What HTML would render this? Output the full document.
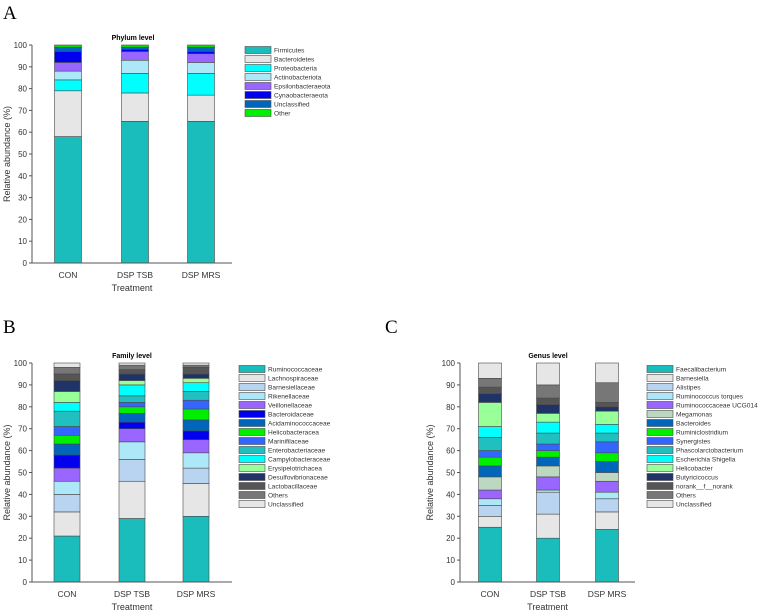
<!DOCTYPE html>
<html><head><meta charset="utf-8">
<style>
html,body{margin:0;padding:0;background:#fff;}
svg{display:block;font-family:"Liberation Sans",Arial,sans-serif;}
</style></head>
<body>
<svg id="chart" width="762" height="612" viewBox="0 0 762 612" xmlns="http://www.w3.org/2000/svg">
<text x="3" y="19" font-family="Liberation Serif,serif" font-size="19">A</text>
<text x="3" y="333" font-family="Liberation Serif,serif" font-size="19">B</text>
<text x="385" y="333" font-family="Liberation Serif,serif" font-size="19">C</text>
</svg>
<script>
const categories = ["CON", "DSP TSB", "DSP MRS"];
const yTicks = [0,10,20,30,40,50,60,70,80,90,100];

const phylumNames = ["Firmicutes","Bacteroidetes","Proteobacteria","Actinobacteriota","Epsilonbacteraeota","Cynaobacteraeota","Unclassified","Other"];
const phylumCON = [58,21,5,4,4,5,2,1];
const phylumTSB = [65,13,9,6,4,1,1,1];
const phylumMRS = [65,12,10,5,4,1,2,1];
const phylumColors = ["#1abcbc","#e6e6e6","#00ffff","#ade8f8","#9966ff","#0000ee","#0066bb","#00ee00"];

const familyNames = ["Ruminococcaceae","Lachnospiraceae","Barnesiellaceae","Rikenellaceae","Veillonellaceae","Bacteroidaceae","Acidaminococcaceae","Helicobacteracea","Marinifilaceae","Enterobacteriaceae","Campylobacteraceae","Erysipelotrichacea","Desulfovibrionaceae","Lactobacillaceae","Others","Unclassified"];
const familyCON = [21,11,8,6,6,6,5,4,4,7,4,5,5,3,3,2];
const familyTSB = [29,17,10,8,6,3,4,3,2,3,5,2,3,2,2,1];
const familyMRS = [30,15,7,7,6,4,5,5,4,4,4,2,2,3,1,1];
const familyColors = ["#1abcbc","#e6e6e6","#b8d4f0","#ade8f8","#9966ff","#0000ee","#0066bb","#00ee00","#3366ff","#20c0c0","#00ffff","#99ff99","#1f3366","#555555","#777777","#e6e6e6"];

const genusNames = ["Faecalibacterium","Barnesiella","Alistipes","Ruminococcus torques","Ruminococcaceae UCG014","Megamonas","Bacteroides","Ruminiclostridium","Synergistes","Phascolarctobacterium","Escherichia Shigella","Helicobacter","Butyricicoccus","norank__f__norank","Others","Unclassified"];
const genusCON = [25,5,5,3,4,6,5,4,3,6,5,11,4,3,4,7];
const genusTSB = [20,11,10,1,6,5,4,3,3,5,5,4,4,3,6,10];
const genusMRS = [24,8,6,3,5,4,5,4,5,4,4,6,2,2,9,9];
const genusColors = ["#1abcbc","#e6e6e6","#b8d4f0","#ade8f8","#9966ff","#bcd8c0","#0066bb","#00ee00","#3366ff","#20c0c0","#00ffff","#99ff99","#1f3366","#555555","#777777","#e6e6e6"];

const svg = document.getElementById('chart');
const NS = "http://www.w3.org/2000/svg";
function mk(tag, attrs, parent){
  const e = document.createElementNS(NS, tag);
  for (const k in attrs) e.setAttribute(k, attrs[k]);
  (parent||svg).appendChild(e);
  return e;
}

function panel(p){
  const g = mk('g', {});
  
  
  const yScale = v => p.y0 - (p.y0 - p.y100) * v / 100;
  // bars
  const series = p.series;
  categories.forEach((c, ci) => {
    const vals = series[ci];
    let cum = 0;
    const cx = p.centers[ci];
    vals.forEach((v, si) => {
      const yTop = yScale(cum + v), yBot = yScale(cum);
      const r = mk('rect', {x: cx - p.bw/2, y: yTop, width: p.bw, height: Math.max(0, yBot - yTop), fill: p.colors[si], stroke: '#4a4a4a', 'stroke-width': 0.6}, g);
      
      
      cum += v;
    });
    const t = mk('text', {x: cx, y: p.y0 + 15, 'font-size': 8.5, 'text-anchor': 'middle', fill: '#333'}, g);
    t.textContent = c;
    
    
  });
  // axes
  const ya = mk('line', {x1: p.ax, y1: p.y100, x2: p.ax, y2: p.y0, stroke: '#555', 'stroke-width': 1}, g);
  
  
  const xa = mk('line', {x1: p.ax, y1: p.y0, x2: p.axEnd, y2: p.y0, stroke: '#555', 'stroke-width': 1}, g);
  
  
  yTicks.forEach(v => {
    const y = yScale(v);
    mk('line', {x1: p.ax - 3, y1: y, x2: p.ax, y2: y, stroke: '#555', 'stroke-width': 1}, g);
    const t = mk('text', {x: p.ax - 5, y: y + 3, 'font-size': 8, 'text-anchor': 'end', fill: '#333'}, g);
    t.textContent = v;
    
    
  });
  const ttl = mk('text', {x: p.titleX, y: p.y100 - 5, 'font-size': 7, 'font-weight': 'bold', 'text-anchor': 'middle'}, g);
  ttl.textContent = p.title;
  
  
  const xt = mk('text', {x: (p.ax + p.axEnd)/2, y: p.y0 + 28, 'font-size': 9, 'text-anchor': 'middle', fill: '#333'}, g);
  xt.textContent = 'Treatment';
  
  
  const yc = (p.y0 + p.y100)/2;
  const yt = mk('text', {x: p.ylabX, y: yc, 'font-size': 9, 'text-anchor': 'middle', fill: '#333', transform: 'rotate(-90 ' + p.ylabX + ' ' + yc + ')'}, g);
  yt.textContent = 'Relative abundance (%)';
  
  
  // legend
  p.names.forEach((n, i) => {
    const cy = p.legY + i * 9;
    const lg = mk('g', {}, g);
    
    
    mk('rect', {x: p.legX, y: cy - 3.5, width: 26, height: 7, fill: p.colors[i], stroke: '#4a4a4a', 'stroke-width': 0.6}, lg);
    const t = mk('text', {x: p.legX + 29, y: cy + 2.5, 'font-size': 6.6, fill: '#333'}, lg);
    t.textContent = n;
  });
}

panel({key:'phylum', title:'Phylum level', y0:263, y100:45, ax:32, axEnd:232, centers:[68,135,201], bw:27, titleX:133, ylabX:10,
  series:[phylumCON, phylumTSB, phylumMRS], colors: phylumColors, names: phylumNames, legX:245, legY:50});
panel({key:'family', title:'Family level', y0:582, y100:363, ax:32, axEnd:232, centers:[67,132,196], bw:26, titleX:132, ylabX:10,
  series:[familyCON, familyTSB, familyMRS], colors: familyColors, names: familyNames, legX:239, legY:369});
panel({key:'genus', title:'Genus level', y0:582, y100:363, ax:460, axEnd:635, centers:[490,548,607], bw:23, titleX:548, ylabX:433,
  series:[genusCON, genusTSB, genusMRS], colors: genusColors, names: genusNames, legX:647, legY:369});
</script>
</body></html>
